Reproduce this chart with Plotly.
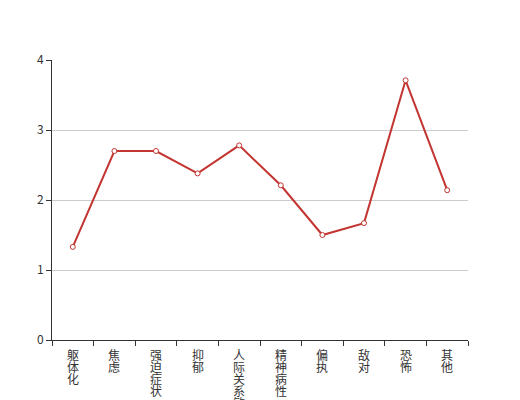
import plotly.graph_objects as go

categories = ["躯体化", "焦虑", "强迫症状", "抑郁", "人际关系敏感", "精神病性", "偏执", "敌对", "恐怖", "其他"]
values = [1.33, 2.7, 2.7, 2.38, 2.78, 2.21, 1.5, 1.67, 3.71, 2.14]
y_ticks = [0, 1, 2, 3, 4]

fig = go.Figure()
fig.add_trace(go.Scatter(
    x=categories, y=values, mode="lines+markers",
    line=dict(color="#c23531", width=2),
    marker=dict(symbol="circle", size=5, color="white", line=dict(color="#c23531", width=1)),
    showlegend=False,
))

# vertical category labels: one character per line, 12px apart
annotations = []
for cat in categories:
    for i, ch in enumerate(cat):
        annotations.append(dict(
            x=cat, y=0, xref="x", yref="y", text=ch, showarrow=False,
            xanchor="center", yanchor="top", yshift=-(5 + 12 * i),
            font=dict(family="Noto Sans CJK SC, sans-serif", size=12, color="#333"),
            borderpad=0,
        ))

fig.update_layout(
    width=520, height=400,
    margin=dict(l=44, r=60, t=52, b=68),
    paper_bgcolor="white", plot_bgcolor="white",
    font=dict(family="Noto Sans CJK SC, sans-serif", size=12, color="#333"),
    annotations=annotations,
    xaxis=dict(
        type="category", tickmode="array", tickvals=categories, showticklabels=False,
        tickson="boundaries", ticks="outside", ticklen=5, tickcolor="#333",
        showline=True, linecolor="#333", linewidth=1, showgrid=False,
        automargin=False, range=[-0.5, 9.5],
    ),
    yaxis=dict(
        range=[0, 4], tickvals=y_ticks, ticks="outside", ticklen=5, tickcolor="#333",
        showline=True, linecolor="#333", linewidth=1,
        showgrid=True, gridcolor="#ccc", gridwidth=1, zeroline=False,
        tickfont=dict(size=12, color="#333"), automargin=False,
    ),
)

fig.write_html("out.html")
